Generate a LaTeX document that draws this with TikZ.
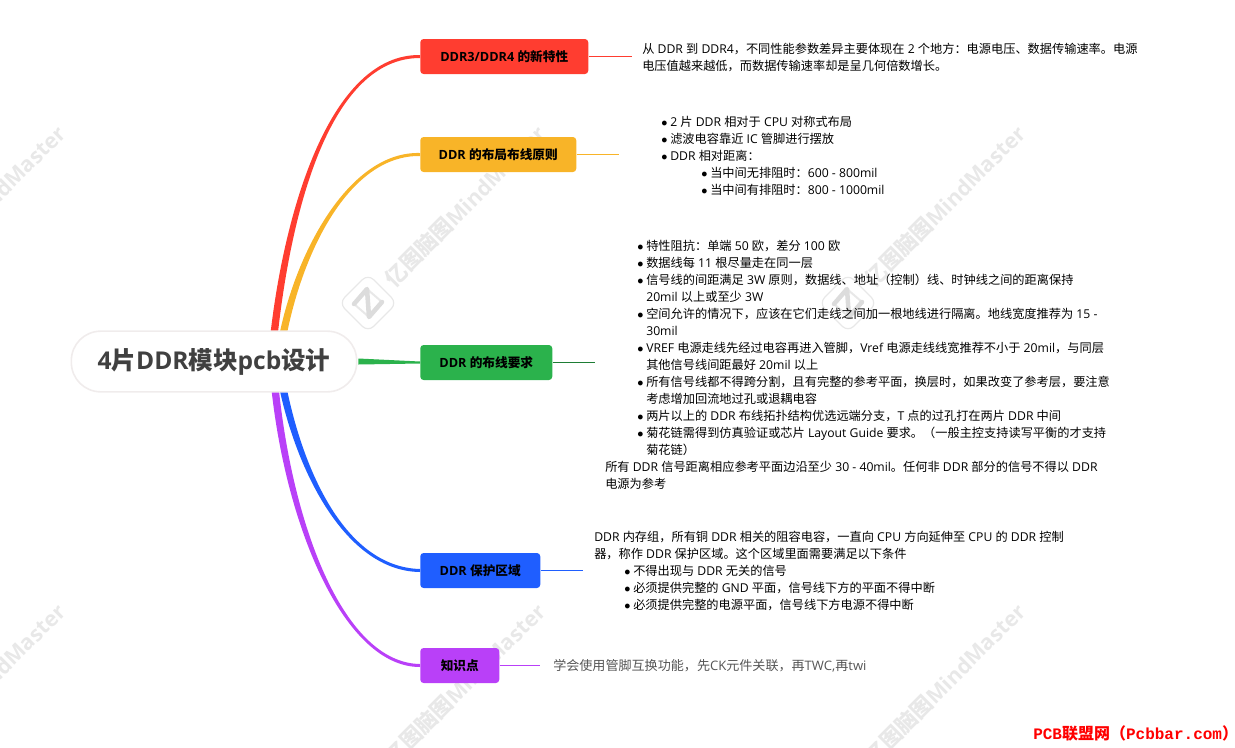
\documentclass[tikz,border=0pt]{standalone}
\usepackage{fontspec}
\usetikzlibrary{calc}
\setmainfont{Open Sans}
\newfontfamily\cjk{Noto Sans CJK SC}
\newfontfamily\ftmono{Liberation Mono}
\let\lat\rmfamily
% cambio automatico de fuente entre latin y chino
\XeTeXinterchartokenstate=1
\newXeTeXintercharclass\cjkclass
\newcommand{\setcjkrange}[2]{\count255=#1 \loop\XeTeXcharclass\count255=\cjkclass\ifnum\count255<#2 \advance\count255 by 1 \repeat}
\setcjkrange{"3000}{"303F}
\setcjkrange{"4E00}{"9FFF}
\setcjkrange{"FF00}{"FFEF}
\XeTeXinterchartoks 0 \cjkclass={\cjk}
\XeTeXinterchartoks 4095 \cjkclass={\cjk}
\XeTeXinterchartoks \cjkclass 0={\lat}
\XeTeXinterchartoks \cjkclass 4095={\lat}
\definecolor{cred}{RGB}{255,61,48}
\definecolor{cyellow}{RGB}{248,180,40}
\definecolor{cgreen}{RGB}{43,178,76}
\definecolor{cblue}{RGB}{31,94,255}
\definecolor{cpurple}{RGB}{185,64,248}
\definecolor{wmark}{RGB}{232,232,232}
\definecolor{hubtext}{RGB}{64,64,64}
\definecolor{hubedge}{RGB}{240,236,236}
\definecolor{lasttext}{RGB}{85,85,85}
\tikzset{
  topicbox/.style={anchor=west, rounded corners=2.5pt, minimum height=26.25pt, inner sep=0pt, text=black, font=\fontsize{9.5}{11}\selectfont\bfseries},
  bodytext/.style={anchor=north west, inner sep=0pt, align=left, text=black, font=\fontsize{9.15}{12.75}\selectfont},
  stemline/.style={line width=0.75pt},
  wmtext/.style={rotate=45, text=wmark, font=\fontsize{16.1}{18}\selectfont\bfseries},
}
\newcommand{\bul}[1]{\hspace*{#1}\llap{$\bullet$\hspace{2pt}}}
% rama conica: color, signo, raiz, control 1, control 2, caja
\newcommand{\branch}[6]{%
  \fill[#1] ($(#3)+(-3.7,0)$) .. controls ($(#4)+(-3.4,0)$) and ($(#5)+(0,-2*#2)$) .. ($(#6.west)+(0,-1.5*#2)$)
    -- ($(#6.west)+(0,1.5*#2)$) .. controls ($(#5)+(0,2*#2)$) and ($(#4)+(3.4,0)$) .. ($(#3)+(3.7,0)$) -- cycle;}
\begin{document}
\begin{tikzpicture}[x=0.75pt, y=-0.75pt]
  \clip (0,0) rectangle (1235,747);
  % marca de agua, debajo de todo
  \foreach \wx/\wy/\wn in {-15/206/a, 465/206/b, 945/206/c, -15/684/d, 465/684/e, 945/684/f}
    \node[wmtext] (wm\wn) at (\wx,\wy) {亿图脑图MindMaster};
  \foreach \lx in {368,848} {
    \draw[wmark, line width=0.9pt, rounded corners=6pt] (\lx-29,303) -- (\lx,274) -- (\lx+29,303) -- (\lx,332) -- cycle;
    \draw[wmark, line width=1.5pt, line cap=round] (\lx-1,289) -- (\lx+14,302) (\lx+1,317) -- (\lx-14,304);
    \draw[wmark!95!black, line width=3.4pt, line cap=round, line join=round] (\lx-14,304) -- (\lx-1,289) -- (\lx+1,317) -- (\lx+14,302);
  }
  % cajas de los temas
  \node[topicbox, fill=cred, minimum width=126pt] (nred) at (420,56.5) {DDR3/DDR4 的新特性};
  \node[topicbox, fill=cyellow, minimum width=117pt] (nyellow) at (420,154.5) {DDR 的布局布线原则};
  \node[topicbox, fill=cgreen, minimum width=99pt] (ngreen) at (420,362.5) {DDR 的布线要求};
  \node[topicbox, fill=cblue, minimum width=90pt] (nblue) at (420,570.5) {DDR 保护区域};
  \node[topicbox, fill=cpurple, minimum width=59.25pt] (npurple) at (420,665.5) {知识点};
  % ramas, antes del nodo central para que este quede encima
  \coordinate (rred) at (274,335);
  \coordinate (ryellow) at (283,335);
  \coordinate (rblue) at (283,388);
  \coordinate (rpurple) at (275,388);
  \branch{cred}{1}{rred}{288,210}{330,56}{nred}
  \branch{cyellow}{1}{ryellow}{300,250}{350,153}{nyellow}
  \branch{cblue}{-1}{rblue}{300,470}{345,569}{nblue}
  \branch{cpurple}{-1}{rpurple}{290,530}{345,665}{npurple}
  \node[draw=hubedge, line width=1.2pt, fill=white, rounded corners=22pt, minimum width=214pt, minimum height=45.5pt, inner sep=0pt, text=hubtext, font=\fontsize{18.4}{22}\selectfont\bfseries] (nhub) at (214,361.5) {\raisebox{-1.2pt}{4片DDR模块pcb设计}};
  \fill[cgreen] ($(nhub.east)+(1,-3)$) -- ($(nhub.east)+(1,3)$) -- ($(ngreen.west)+(0,1)$) -- ($(ngreen.west)+(0,-1)$) -- cycle;
  % lineas finas hacia los textos
  \coordinate (ered) at (632,56.5);
  \coordinate (eyellow) at (619,154.5);
  \coordinate (egreen) at (595,362.5);
  \coordinate (eblue) at (583,570.5);
  \coordinate (epurple) at (540,665.5);
  \draw[stemline, cred] (nred.east) -- (ered);
  \draw[stemline, cyellow] (nyellow.east) -- (eyellow);
  \draw[stemline, cgreen!70!black] (ngreen.east) -- (egreen);
  \draw[stemline, cblue] (nblue.east) -- (eblue);
  \draw[stemline, cpurple] (npurple.east) -- (epurple);
  % textos
  \node[bodytext] (tred) at (642,42.5) {从 DDR 到 DDR4，不同性能参数差异主要体现在 2 个地方：电源电压、数据传输速率。电源\\电压值越来越低，而数据传输速率却是呈几何倍数增长。};
  \node[bodytext] (tyellow) at (670,115.5) {\bul{0pt}2 片 DDR 相对于 CPU 对称式布局\\
    \bul{0pt}滤波电容靠近 IC 管脚进行摆放\\
    \bul{0pt}DDR 相对距离：\\
    \bul{30pt}当中间无排阻时：600 - 800mil\\
    \bul{30pt}当中间有排阻时：800 - 1000mil};
  \node[bodytext] (tgreen) at (605,239.5) {\bul{30.75pt}特性阻抗：单端 50 欧，差分 100 欧\\
    \bul{30.75pt}数据线每 11 根尽量走在同一层\\
    \bul{30.75pt}信号线的间距满足 3W 原则，数据线、地址（控制）线、时钟线之间的距离保持\\
    \hspace*{30.75pt}20mil 以上或至少 3W\\
    \bul{30.75pt}空间允许的情况下，应该在它们走线之间加一根地线进行隔离。地线宽度推荐为 15 -\\
    \hspace*{30.75pt}30mil\\
    \bul{30.75pt}VREF 电源走线先经过电容再进入管脚，Vref 电源走线线宽推荐不小于 20mil，与同层\\
    \hspace*{30.75pt}其他信号线间距最好 20mil 以上\\
    \bul{30.75pt}所有信号线都不得跨分割，且有完整的参考平面，换层时，如果改变了参考层，要注意\\
    \hspace*{30.75pt}考虑增加回流地过孔或退耦电容\\
    \bul{30.75pt}两片以上的 DDR 布线拓扑结构优选远端分支，T 点的过孔打在两片 DDR 中间\\
    \bul{30.75pt}菊花链需得到仿真验证或芯片 Layout Guide 要求。（一般主控支持读写平衡的才支持\\
    \hspace*{30.75pt}菊花链）\\
    所有 DDR 信号距离相应参考平面边沿至少 30 - 40mil。任何非 DDR 部分的信号不得以 DDR\\
    电源为参考};
  \node[bodytext] (tblue) at (594,530.5) {DDR 内存组，所有铜 DDR 相关的阻容电容，一直向 CPU 方向延伸至 CPU 的 DDR 控制\\
    器，称作 DDR 保护区域。这个区域里面需要满足以下条件\\
    \bul{29.25pt}不得出现与 DDR 无关的信号\\
    \bul{29.25pt}必须提供完整的 GND 平面，信号线下方的平面不得中断\\
    \bul{29.25pt}必须提供完整的电源平面，信号线下方电源不得中断};
  \node[bodytext, text=lasttext, font=\fontsize{9.8}{12}\selectfont] (tpurple) at (553,659) {学会使用管脚互换功能，先CK元件关联，再TWC,再twi};
  % sello de la esquina
  \node[anchor=west, inner sep=0pt, text=red, font=\fontsize{12}{14}\selectfont\bfseries\let\lat\ftmono\lat] (nstamp) at (1033,733) {PCB联盟网（Pcbbar.com）};
\end{tikzpicture}
\end{document}
